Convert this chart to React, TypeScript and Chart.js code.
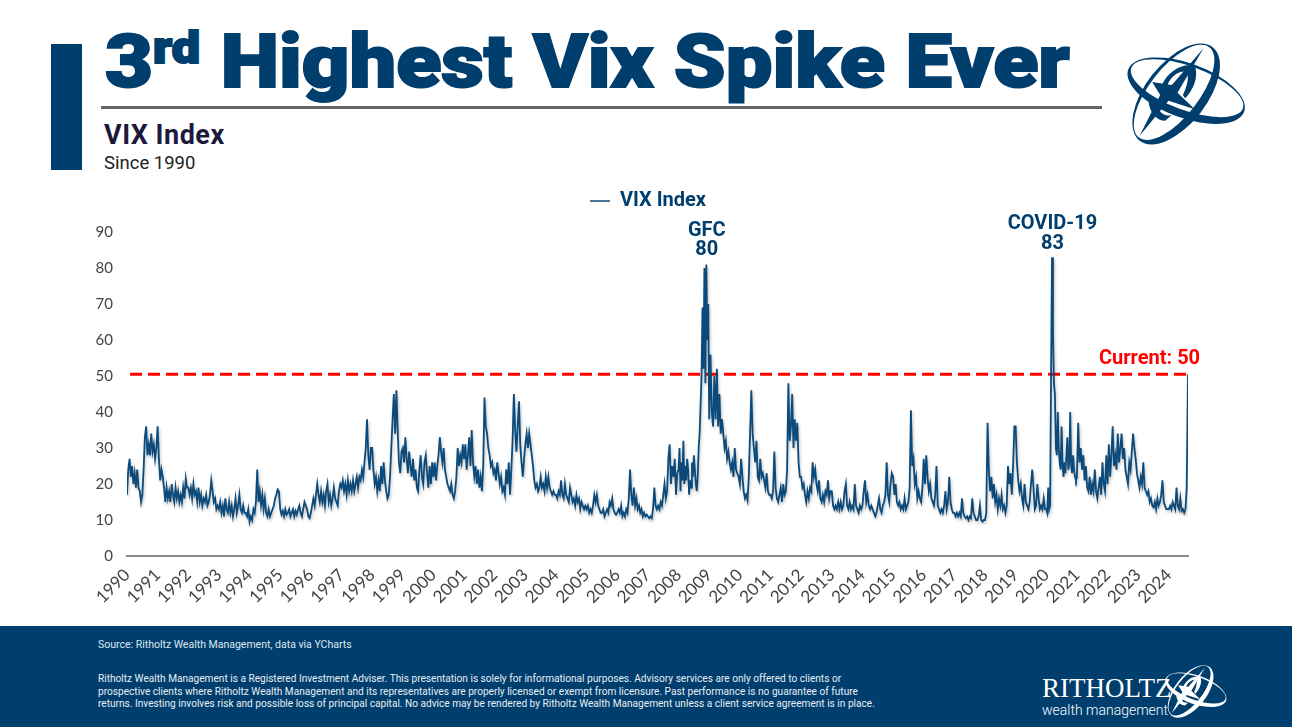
import { useEffect, useRef } from 'react'
import { Chart, registerables } from 'chart.js'

Chart.register(...registerables)

const NAVY = '#003e6e'
const LINE = '#0b4a7a'
const RED = '#ff0000'

// readings, a year at a time
const vix1990 = [17, 24, 27, 22, 25, 20, 23, 19, 24, 19, 18, 15, 17, 24, 33, 36, 28, 31, 28, 34, 29, 31, 27, 30]
const vix1991 = [36, 27, 21, 24, 22, 19, 15, 19, 16, 18, 15, 20, 17, 15, 19, 16, 18, 15, 17, 15, 19, 16, 21.5, 19]
const vix1992 = [19, 17, 19, 16, 20, 17, 18, 15, 19, 15, 17, 14, 16, 15, 17, 14, 15, 17, 21, 18, 15, 16, 13, 14]
const vix1993 = [13, 15, 12, 14, 11, 16, 13, 12, 15, 12, 14, 11, 13, 16, 12, 14, 17, 13, 12, 14, 12, 12, 11, 13]
const vix1994 = [9.5, 11, 10, 13, 12, 15, 24, 15, 18, 14, 17, 13, 16, 12, 11, 13, 11, 12, 13, 14, 16, 17, 18.5, 18]
const vix1995 = [13, 11.5, 12.5, 11, 13, 11.5, 12, 13, 11, 12, 13, 11, 12.5, 11.5, 13, 14, 12, 11, 13, 15, 14, 13, 11, 10.5]
const vix1996 = [12, 14, 16, 14, 17, 20, 17, 15, 18, 15, 17, 14, 18, 20, 15, 17, 14, 16, 19, 16, 15, 14, 18, 20]
const vix1997 = [19, 21, 18, 20, 17, 21, 18, 20, 18, 21, 18, 20, 22, 19, 22, 21, 24, 22, 26, 30, 38, 28, 24, 30]
const vix1998 = [30, 24, 20, 22, 18, 21, 18, 25, 20, 26, 21, 18, 16, 17, 22, 30, 38, 45, 34, 46, 35, 26, 23, 29]
const vix1999 = [30, 26, 33, 27, 23, 29, 25, 22, 27, 21, 24, 19, 18, 24, 28, 22, 20, 26, 28, 23, 19, 25, 20, 26]
const vix2000 = [22, 26, 21, 25, 28, 33, 29, 26, 30, 24, 22, 20, 19, 18, 20, 17, 16, 18, 22, 30, 25, 28, 26, 31]
const vix2001 = [27, 31, 24, 28, 33, 25, 35, 26, 22, 25, 20, 24, 19, 22, 18, 25, 44, 36, 34, 30, 28, 25, 26, 23]
const vix2002 = [24, 21, 26, 23, 20, 22, 18, 19, 17, 24, 20, 26, 17, 24, 32, 45, 35, 29, 36, 43, 31, 26, 22, 27]
const vix2003 = [31, 34, 30, 34, 31, 28, 25, 21, 19, 20, 18, 19, 22, 19, 20, 18, 22, 19, 22, 19, 18, 17, 18, 17]
const vix2004 = [17, 16, 18, 17, 21, 17, 16, 20, 17, 16, 15, 19, 17, 15, 16, 14, 17, 15, 16, 13, 15, 14, 13, 14]
const vix2005 = [13, 14, 12, 13, 12, 14, 17, 15, 17, 14, 13, 12, 12, 13, 11, 12, 13, 12, 15, 14, 16, 13, 12, 11.5]
const vix2006 = [12, 13, 12, 14, 11, 12, 11, 13, 12, 16, 24, 17, 14, 19, 14, 16, 13, 14, 12, 13, 11, 12, 11, 11.5]
const vix2007 = [11, 10.5, 11, 10.5, 13, 19, 14, 13, 14, 13, 15, 14, 17, 20, 16, 18, 27, 31, 20, 25, 22, 27, 17, 23]
const vix2008 = [24, 30, 18, 26, 21, 32, 20, 25, 21, 27, 24, 17, 21, 19, 26, 22, 28, 24, 20, 18, 22, 30, 34, 42, 50, 69, 52, 80, 48, 81, 60, 70]
const vix2009 = [38, 56, 40, 36, 50, 38, 52, 36, 45, 34, 38, 34, 30, 32, 27, 29, 26, 24, 26, 22, 30, 24, 23, 22]
const vix2010 = [20, 27, 22, 18, 16, 17, 15.5, 22, 34, 46, 34, 30, 26, 32, 22, 21, 27, 22, 23, 21, 19, 23, 18, 17]
const vix2011 = [17, 16, 18, 29, 19, 16, 15, 17, 19, 15, 20, 17, 18, 24, 48, 32, 36, 45, 30, 38, 32, 37, 26, 22]
const vix2012 = [22, 19, 20, 17, 15, 18, 16, 19, 18, 26, 22, 24, 20, 18, 21, 16, 15, 17, 15, 18, 17, 21, 16, 18]
const vix2013 = [18, 14, 13, 14, 13, 15, 13, 15, 13, 14, 18, 20, 14, 13, 15, 13, 14, 13, 20, 14, 13, 12, 14, 13]
const vix2014 = [14, 18, 21, 15, 17, 14, 13, 14, 13, 12, 11, 12, 14, 16, 13, 12, 14, 15, 17, 26, 17, 15, 20, 23]
const vix2015 = [22, 17, 20, 15, 14, 15, 13, 14, 13, 16, 13, 14, 15, 19, 40.5, 25, 27, 20, 22, 16, 18, 16, 15, 19]
const vix2016 = [27, 20, 28, 22, 18, 20, 16, 15, 14, 17, 25, 14, 13, 12, 13, 12, 14, 18, 13, 15, 22, 15, 13, 12]
const vix2017 = [12, 11, 12, 11, 12, 11, 16, 12, 11, 10.5, 11, 10, 11, 10.5, 16, 12, 11, 10, 10, 11, 14, 10, 9.5, 10]
const vix2018 = [10, 12, 37, 24, 18, 22, 16, 20, 15, 17, 13, 16, 14, 17, 13, 14, 12, 14, 25, 20, 23, 17, 25, 36]
const vix2019 = [36, 26, 21, 18, 20, 16, 14, 20, 15, 14, 13, 15, 20, 24, 19, 13, 14, 20, 16, 13, 14, 13, 16, 13]
const vix2020 = [13, 12, 19, 13, 14, 50, 83, 62, 48, 45, 30, 28, 40, 30, 26, 24, 36, 25, 22, 26, 23, 28, 33, 24, 26, 40, 25, 23, 28, 24, 22, 21]
const vix2021 = [22, 37, 26, 30, 24, 28, 21, 25, 19, 18, 22, 17, 20, 18, 24, 18, 16, 19, 22, 17, 26, 20, 18, 28]
const vix2022 = [20, 31, 22, 28, 36, 25, 28, 24, 34, 26, 30, 34, 27, 30, 24, 22, 20, 26, 24, 29, 34, 30, 27, 23]
const vix2023 = [21, 19, 22, 20, 26, 19, 18, 17, 18, 15, 16, 14, 13.5, 15, 13, 16, 14, 15, 17, 21, 15, 14, 13, 13]
const vix2024 = [13, 14, 13, 15, 14, 13, 19, 14, 13, 16, 12.5, 13, 12, 13, 19, 50.5]

const years = [
  1990, 1991, 1992, 1993, 1994, 1995, 1996, 1997, 1998, 1999, 2000, 2001,
  2002, 2003, 2004, 2005, 2006, 2007, 2008, 2009, 2010, 2011, 2012, 2013,
  2014, 2015, 2016, 2017, 2018, 2019, 2020, 2021, 2022, 2023, 2024,
]
const vixByYear = [
  vix1990, vix1991, vix1992, vix1993, vix1994, vix1995, vix1996, vix1997, vix1998,
  vix1999, vix2000, vix2001, vix2002, vix2003, vix2004, vix2005, vix2006, vix2007,
  vix2008, vix2009, vix2010, vix2011, vix2012, vix2013, vix2014, vix2015, vix2016,
  vix2017, vix2018, vix2019, vix2020, vix2021, vix2022, vix2023, vix2024,
]

const lastDate = 2024.625
const currentLevel = 50.5

// text that sits on the chart: [x in years, y in index points, text]
const gfcLabel: [number, number, string][] = [[2008.92, 90.2, 'GFC'], [2008.92, 85, '80']]
const covidLabel: [number, number, string][] = [[2020.2, 92.1, 'COVID-19'], [2020.2, 86.6, '83']]
const currentLabel: [number, number, string][] = [[2023.37, 54.7, 'Current: 50']]

const vixPoints = years.flatMap((year, i) => {
  const values = vixByYear[i]
  const step = year === 2024 ? (lastDate - 2024) / (values.length - 1) : 1 / values.length
  return values.map((y, j) => ({ x: year + j * step, y }))
})

// room under the legend, and the legend sits off the plot's centre in the original
const legendPlace = {
  id: 'legendPlace',
  beforeInit(chart: any) {
    const fit = chart.legend.fit
    chart.legend.fit = function () {
      fit.call(this)
      this.height += 11
    }
  },
  afterLayout(chart: any) {
    chart.legend.left += 54
    chart.legend.right += 54
  },
}

// the original line has a soft drop shadow
const lineShadow = {
  id: 'lineShadow',
  beforeDatasetDraw(chart: any, args: any) {
    if (args.index !== 0) return
    chart.ctx.shadowColor = 'rgba(0,0,0,0.25)'
    chart.ctx.shadowBlur = 3
    chart.ctx.shadowOffsetX = 1
    chart.ctx.shadowOffsetY = 2
  },
  afterDatasetDraw(chart: any, args: any) {
    if (args.index !== 0) return
    chart.ctx.shadowColor = 'transparent'
    chart.ctx.shadowBlur = 0
    chart.ctx.shadowOffsetX = 0
    chart.ctx.shadowOffsetY = 0
  },
}

const chartLabels = {
  id: 'chartLabels',
  afterDraw(chart: any) {
    const { ctx, scales } = chart
    const put = (items: [number, number, string][], color: string) => {
      items.forEach(([x, y, text]) => {
        ctx.fillStyle = color
        ctx.fillText(text, scales.x.getPixelForValue(x), scales.y.getPixelForValue(y))
      })
    }
    ctx.save()
    ctx.font = '700 20px Roboto'
    ctx.textAlign = 'center'
    ctx.textBaseline = 'middle'
    put(gfcLabel, NAVY)
    put(covidLabel, NAVY)
    put(currentLabel, RED)
    ctx.restore()
  },
}

function Logo({ color, style }: { color: string; style: React.CSSProperties }) {
  return (
    <svg viewBox="0 0 575 390" style={style}>
      <g fill={color} fillRule="evenodd">
        <path
          transform="rotate(20 258 182)"
          d="M73 182a185 82 0 1 0 370 0a185 82 0 1 0 -370 0zM80 174a178 66 0 1 1 356 0a178 66 0 1 1 -356 0z"
        />
        <path
          transform="rotate(-52 228 192)"
          d="M50 192a178 92 0 1 0 356 0a178 92 0 1 0 -356 0zM56 184a172 74 0 1 1 344 0a172 74 0 1 1 -344 0z"
        />
      </g>
      <g fill={color}>
        <path d="M185 165C205 120 255 95 285 110C295 140 280 180 255 205L248 195C262 165 268 140 258 125C235 122 210 140 200 170Z" />
        <path d="M145 215C150 250 170 272 195 272L215 255C190 262 170 245 165 205Z" />
        <path d="M310 55L232 188L284 238L205 212L118 318L180 195L156 156L215 165Z" />
      </g>
    </svg>
  )
}

const textAt = (left: number, top: number, extra: React.CSSProperties): React.CSSProperties => ({
  position: 'absolute',
  left,
  top,
  whiteSpace: 'nowrap',
  lineHeight: 1,
  ...extra,
})

export default function App() {
  const canvasRef = useRef<HTMLCanvasElement>(null)

  useEffect(() => {
    if (!canvasRef.current) return
    const chart = new Chart(canvasRef.current, {
      type: 'line',
      data: {
        datasets: [
          {
            label: 'VIX Index',
            data: vixPoints,
            borderColor: LINE,
            backgroundColor: LINE,
            borderWidth: 1.8,
            pointRadius: 0,
            tension: 0,
          },
          {
            label: 'Current',
            data: [
              { x: 1990.1, y: currentLevel },
              { x: lastDate, y: currentLevel },
            ],
            borderColor: RED,
            borderWidth: 3,
            borderDash: [12, 6],
            pointRadius: 0,
          },
        ],
      },
      options: {
        responsive: false,
        animation: false,
        layout: { padding: { top: 0, right: 104, left: 0, bottom: 0 } },
        plugins: {
          tooltip: { enabled: false },
          legend: {
            position: 'top',
            align: 'center',
            labels: {
              generateLabels: (c: any) =>
                Chart.defaults.plugins.legend.labels
                  .generateLabels(c)
                  .filter((item: any) => item.datasetIndex === 0)
                  .map((item: any) => ({ ...item, lineWidth: 0 })),
              boxWidth: 20,
              boxHeight: 1.5,
              padding: 5,
              color: NAVY,
              font: { family: 'Roboto', size: 20, weight: 'bold' },
            },
          },
        },
        scales: {
          x: {
            type: 'linear',
            min: 1990,
            max: lastDate,
            afterFit: (scale: any) => {
              scale.height = 70
            },
            grid: { display: false, drawTicks: false },
            border: { color: '#8a8a8a', width: 2 },
            ticks: {
              stepSize: 1,
              includeBounds: false,
              autoSkip: false,
              minRotation: 45,
              maxRotation: 45,
              padding: 9,
              color: '#444',
              font: { family: 'Lato', size: 17 },
              callback: (v: any) => String(v),
            },
          },
          y: {
            min: 0,
            max: 90,
            afterFit: (scale: any) => {
              scale.width = 127
            },
            grid: { display: false, drawTicks: false },
            border: { display: false },
            ticks: {
              stepSize: 10,
              padding: 14,
              color: '#444',
              font: { family: 'Lato', size: 15 },
            },
          },
        },
      },
      plugins: [legendPlace, lineShadow, chartLabels],
    })
    return () => chart.destroy()
  }, [])

  return (
    <div style={{ position: 'absolute', left: 0, top: 0, width: 1292, height: 727, background: '#fff', overflow: 'hidden', fontFamily: 'Roboto' }}>
      <div style={{ position: 'absolute', left: 51, top: 44, width: 31, height: 126, background: NAVY }} />
      <div style={textAt(105, 25, { color: NAVY, fontSize: 74, fontWeight: 900, WebkitTextStroke: `2px ${NAVY}`, transform: 'scaleX(1.12)', transformOrigin: 'left' })}>
        3<sup style={{ fontSize: 45, verticalAlign: 24, lineHeight: 0 }}>rd</sup> Highest Vix Spike Ever
      </div>
      <div style={{ position: 'absolute', left: 101, top: 106, width: 1001, height: 3, background: '#666' }} />
      <div style={textAt(104, 122, { color: '#1c1a3c', fontSize: 27, fontWeight: 700, letterSpacing: 0.5 })}>VIX Index</div>
      <div style={textAt(104, 154, { color: '#222', fontSize: 18.5 })}>Since 1990</div>
      <Logo color={NAVY} style={{ position: 'absolute', left: 1100, top: 30, width: 192, height: 130 }} />

      <canvas ref={canvasRef} width={1292} height={440} style={{ position: 'absolute', left: 0, top: 186 }} />

      <div style={{ position: 'absolute', left: 0, top: 626, width: 1292, height: 101, background: NAVY }} />
      <div style={textAt(98, 640, { color: '#dfe7ee', fontSize: 10.5 })}>Source: Ritholtz Wealth Management, data via YCharts</div>
      <div style={textAt(98, 673, { color: '#e8eef3', fontSize: 10.5, lineHeight: '12.7px', transform: 'scaleX(0.963)', transformOrigin: 'left' })}>
        Ritholtz Wealth Management is a Registered Investment Adviser. This presentation is solely for informational purposes. Advisory services are only offered to clients or
        <br />
        prospective clients where Ritholtz Wealth Management and its representatives are properly licensed or exempt from licensure. Past performance is no guarantee of future
        <br />
        returns. Investing involves risk and possible loss of principal capital. No advice may be rendered by Ritholtz Wealth Management unless a client service agreement is in place.
      </div>
      <div style={textAt(1042, 675, { color: '#fff', fontFamily: 'Liberation Serif', fontSize: 27 })}>RITHOLTZ</div>
      <div style={textAt(1042, 703, { color: '#fff', fontSize: 14, fontWeight: 300 })}>wealth management</div>
      <Logo color="#fff" style={{ position: 'absolute', left: 1151, top: 658, width: 100, height: 68 }} />
    </div>
  )
}
